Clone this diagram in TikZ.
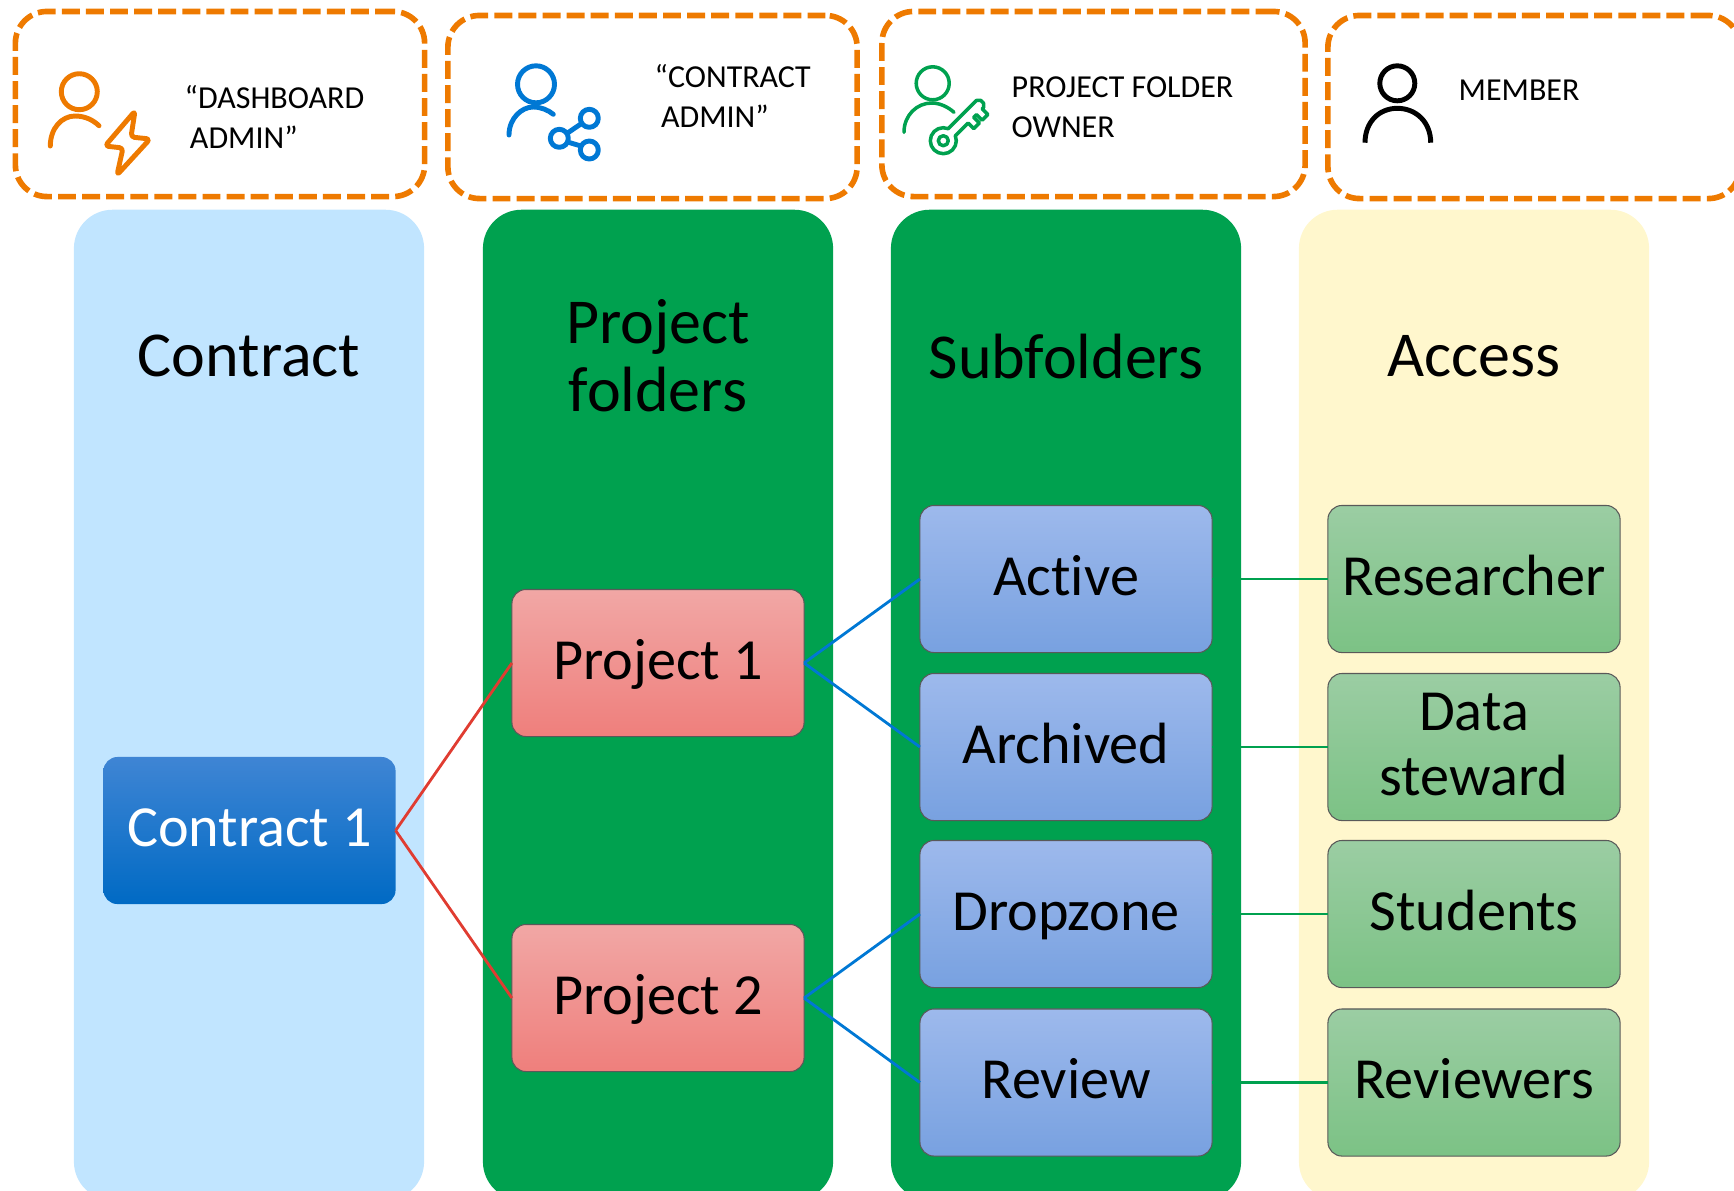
\documentclass[tikz,border=0pt]{standalone}
\usepackage{fontspec}
\setmainfont{Carlito}[Ligatures=NoCommon]
\definecolor{myorange}{HTML}{EE7A00}
\definecolor{myblue}{HTML}{0078D4}
\definecolor{mygreen}{HTML}{00A14F}
\definecolor{myred}{HTML}{E03C31}
\definecolor{mysky}{HTML}{C1E5FF}
\definecolor{myyellow}{HTML}{FFF7CD}
\newcommand{\mystrut}{\rule[-2.94pt]{0pt}{15.04pt}}

\begin{document}
\begin{tikzpicture}[x=0.01cm,y=-0.01cm]
   \tikzstyle{column}=[rounded corners=11pt, minimum width=3.5cm, minimum height=9.9cm, inner sep=0pt, outer sep=0pt]
   \tikzstyle{head}=[font=\fontsize{18.2}{19.4}\selectfont, align=center]
   \tikzstyle{main}=[rounded corners=4pt, minimum width=2.92cm, minimum height=1.47cm, inner sep=0pt, outer sep=0pt, draw=black!65, line width=0.3pt, align=center, font=\fontsize{16.55}{18.3}\selectfont]
   \tikzstyle{contract}=[main, draw=none, top color={rgb,255:red,63;green,133;blue,212}, middle color=myblue, bottom color={rgb,255:red,0;green,106;blue,196}, text=white]
   \tikzstyle{project}=[main, top color={rgb,255:red,241;green,167;blue,165}, bottom color={rgb,255:red,239;green,127;blue,124}]
   \tikzstyle{subfolder}=[main, top color={rgb,255:red,157;green,185;blue,236}, bottom color={rgb,255:red,120;green,161;blue,224}]
   \tikzstyle{access}=[main, top color={rgb,255:red,155;green,205;blue,163}, bottom color={rgb,255:red,124;green,194;blue,133}]
   \tikzstyle{role}=[rounded corners=9pt, draw=myorange, line width=1.6pt, dash pattern=on 5.1pt off 1.75pt, inner sep=0pt]
   \tikzstyle{rolename}=[anchor=west, align=left, inner sep=0pt, font=\fontsize{9.1}{11.3}\selectfont]
   \tikzstyle{icon}=[line width=1.4pt, line cap=round, line join=round]
   \path[use as bounding box, clip] (0,0) rectangle (1734,1190);

   % role boxes along the top
   \foreach \i/\x/\y/\w/\h in {1/220/104/4.09/1.85,2/652.5/107/4.09/1.83,3/1093.5/104/4.23/1.85,4/1534/107/4.12/1.83} {
       \node[role, minimum width=\w cm, minimum height=\h cm] (role\i) at (\x,\y) {};
   }
   \node[rolename] (dashboard) at (184,117) {“DASHBOARD\\\hspace{1.5pt}ADMIN”};
   \node[rolename] (admin) at (654,96) {“CONTRACT\\\hspace{1.8pt}ADMIN”};
   \node[rolename] (owner) at (1011,107) {PROJECT FOLDER\\OWNER};
   \node[rolename] (member) at (1458,90) {MEMBER};

   % the four columns
   \node[column, fill=mysky] (c1) at (249,705) {};
   \node[column, fill=mygreen] (c2) at (658,705) {};
   \node[column, fill=mygreen] (c3) at (1066,705) {};
   \node[column, fill=myyellow] (c4) at (1474,705) {};
   \node[head] (contracthead) at (249,356) {Contract};
   \node[head] (projecthead) at (658,356) {Project\\folders};
   \node[head] (subhead) at (1066,356) {Subfolders};
   \node[head] (accesshead) at (1474,356) {Access};

   \node[contract] (contract1) at (249.5,830.5) {\mystrut Contract 1\mystrut};
   \node[project] (project1) at (658,663) {\mystrut Project 1\mystrut};
   \node[project] (project2) at (658,998) {\mystrut Project 2\mystrut};
   \foreach \name/\word/\other/\otherword/\y in {active/Active/researcher/Researcher/579,archived/Archived/steward/{Data\\steward}/747,dropzone/Dropzone/students/Students/914,review/Review/reviewers/Reviewers/1082.5} {
       \node[subfolder] (\name) at (1066,\y) {\mystrut\word\mystrut};
       \node[access] (\other) at (1474,\y) {\mystrut\otherword\mystrut};
       \path[draw=mygreen, line width=0.8pt] (\name) -- (\other);
   }
   \foreach \a/\b in {contract1/project1,contract1/project2} {
       \draw[myred, line width=0.8pt] (\a.east) -- (\b.west);
   }
   \foreach \a/\b in {project1/active,project1/archived,project2/dropzone,project2/review} {
       \draw[myblue, line width=0.8pt] (\a.east) -- (\b.west);
   }

   % icons
   \draw[icon, myorange] (79.3,91.7) circle[radius=18];
   \draw[icon, myorange] (50.3,146) .. controls (50.3,128) and (62,116) .. (75,116) .. controls (85,116) and (93,120) .. (99,125.7);
   \draw[icon, myorange, rounded corners=1pt] (135,111) -- (105,146) -- (123,148) -- (117,175) -- (150,139) -- (131,137) -- cycle;

   \draw[icon, myblue] (536,84.3) circle[radius=18.5];
   \draw[icon, myblue] (509,135) .. controls (509,118) and (522,107) .. (533,107) .. controls (541,107) and (548,110) .. (553.3,114.3);
   \draw[icon, myblue] (589.3,118.3) circle[radius=9] (559.3,138.3) circle[radius=9] (589.3,150) circle[radius=9];
   \draw[icon, myblue] (581.5,123.5) -- (567.5,133) (567.5,142) -- (581,146);

   \draw[icon, mygreen, line width=1pt] (932.7,83.3) circle[radius=16.5];
   \draw[icon, mygreen, line width=1pt] (904,132.3) .. controls (904,115) and (917,103) .. (931.7,103) .. controls (940,103) and (948,107) .. (954,112.3);
   \begin{scope}[shift={(943.3,140.7)}, rotate=45]
      \draw[icon, mygreen, line width=1pt] (0,0) circle[radius=5];
      \draw[icon, mygreen, line width=1pt] (12,-5) arc[start angle=-22.6, end angle=-337.4, radius=13] -- (30,5) -- (30,13) -- (38,13) -- (38,5) -- (42,5) -- (42,13) -- (50,13) -- (50,5) -- (52,5) -- (55,2) -- (55,-2) -- (52,-5) -- cycle;
   \end{scope}

   \draw[icon, black, line cap=butt] (1397.3,83.3) circle[radius=17.5];
   \draw[icon, black, line cap=butt] (1365,142.7) .. controls (1365,122) and (1379,108.3) .. (1397.3,108.3) .. controls (1416,108.3) and (1430.7,122) .. (1430.7,142.7);
\end{tikzpicture}
\end{document}
